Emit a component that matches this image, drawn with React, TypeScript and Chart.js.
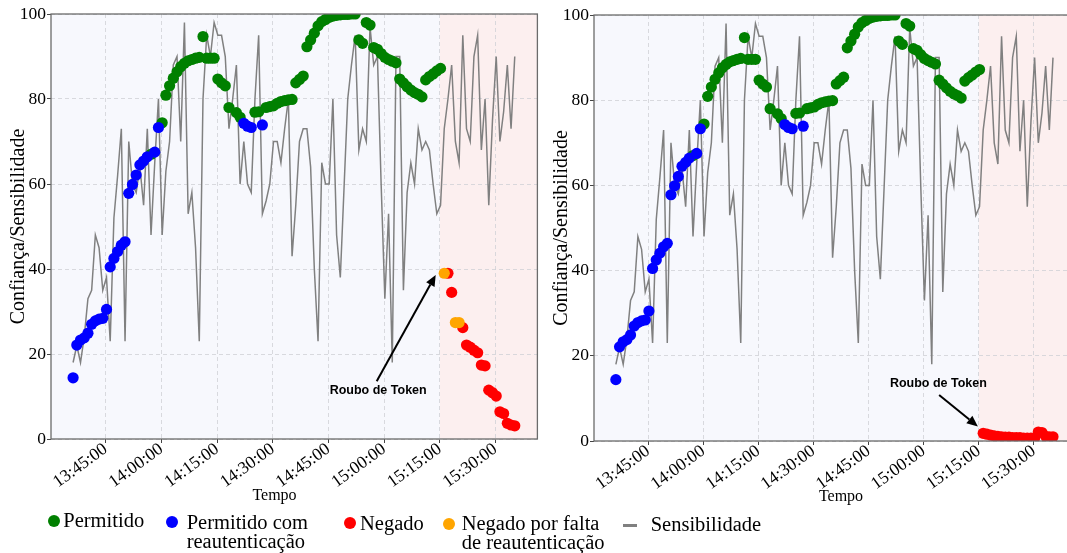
import React, { useEffect, useRef } from 'react';
import { Chart, registerables } from 'chart.js';

Chart.register(...registerables);

// ---------------- data ----------------
// one sample per minute, first sample at 13:36:12
const FIRST_SAMPLE = '13:36:12';
const SAMPLE_STEP_MIN = 1;

// Sensibilidade (grey line), 120 samples
const sensibilidade = [
  18, 22, 18, 24, 33, 35, 48, 45, 35, 38,
  23, 52, 62, 73, 23, 70, 60, 58, 64, 55,
  73, 48, 65, 80, 48, 63, 70, 88, 90, 70,
  98, 53, 58, 45, 23, 80, 95, 90, 98, 95,
  95, 90, 73, 80, 88, 60, 70, 60, 58, 80,
  95, 53, 56, 60, 70, 70, 65, 73, 80, 43,
  55, 70, 73, 73, 64, 40, 23, 65, 60, 60,
  80, 48, 38, 59, 80, 88, 95, 68, 73, 70,
  97, 88, 90, 60, 33, 53, 18, 90, 90, 35,
  58, 65, 60, 73, 68, 70, 68, 60, 53, 55,
  73, 80, 88, 70, 65, 95, 73, 70, 90, 95,
  68, 80, 55, 75, 90, 70, 77, 88, 73, 90,
];

// Confiança before the token theft (shared by both panels), samples 0..99
const confiancaAntes: (number | null)[] = [
  14.4, 22.1, 23.3, 23.8, 24.9, 27.0, 27.8, 28.2, 28.4, 30.5,
  40.5, 42.5, 44.1, 45.6, 46.4, 57.8, 59.9, 62.1, 64.5, 65.4,
  66.4, 67.0, 67.5, 73.3, 74.4, 80.9, 83.1, 84.9, 86.4, 87.6,
  88.4, 89.0, 89.3, 89.6, 89.8, 94.7, 89.6, 89.6, 89.6, 84.7,
  83.8, 83.1, 78.0, null, 76.8, 75.7, 74.3, 73.6, 73.3, 76.9,
  77.0, 73.9, 78.0, 78.2, 78.4, 79.0, 79.4, 79.6, 79.8, 79.9,
  83.8, 84.6, 85.4, 92.3, 93.9, 95.5, 97.2, 98.2, 98.7, 99.2,
  99.5, 99.7, 99.8, 99.9, 99.9, 100, 100, 93.9, 93.1, 98.0,
  97.4, 92.1, 91.7, 90.7, 89.8, 89.3, 88.9, 88.5, 84.7, 83.8,
  82.9, 82.1, 81.5, 81.1, 80.5, 84.5, 85.3, 85.9, 86.6, 87.2,
];
// decision per sample (run-length): P = Permitido, R = com reautenticação, - = none
const decisaoAntesRuns: [string, number][] = [
  ['R', 21], ['P', 1], ['R', 2], ['P', 19], ['-', 1], ['P', 2],
  ['R', 3], ['P', 2], ['R', 1], ['P', 48],
];

// after the theft (samples 100..119)
const confiancaAtaqueA = [
  39.0, 39.0, 34.5, 27.4, 27.4, 26.2, 22.1, 21.6, 20.9, 20.3,
  17.4, 17.2, 11.5, 10.9, 10.1, 6.4, 6.0, 3.7, 3.3, 3.1,
];
const decisaoAtaqueA = ['F', 'N', 'N', 'F', 'F', 'N', 'N', 'N', 'N', 'N',
  'N', 'N', 'N', 'N', 'N', 'N', 'N', 'N', 'N', 'N'];

const confiancaAtaqueB = [
  1.8, 1.6, 1.4, 1.2, 1.1, 1.0, 0.9, 0.9, 0.8, 0.8,
  0.8, 0.7, 0.7, 0.7, 0.7, 2.1, 2.0, 1.1, 1.0, 1.0,
];
const decisaoAtaqueB = ['N', 'N', 'N', 'N', 'N', 'N', 'N', 'N', 'N', 'N',
  'N', 'N', 'N', 'N', 'N', 'N', 'N', 'N', 'N', 'N'];

const xTickLabels = ['13:45:00', '14:00:00', '14:15:00', '14:30:00', '14:45:00', '15:00:00', '15:15:00', '15:30:00'];
const yTickValues = [0, 20, 40, 60, 80, 100];
const ATTACK_TIME = '15:15:00';
const X_RANGE = ['13:30:15', '15:41:18'];

const SERIES = [
  { code: 'P', label: 'Permitido', color: '#008000' },
  { code: 'R', label: 'Permitido com\nreautenticação', color: '#0000ff' },
  { code: 'N', label: 'Negado', color: '#ff0000' },
  { code: 'F', label: 'Negado por falta\nde reautenticação', color: '#ffa500' },
];
const LINE_SERIES = { label: 'Sensibilidade', color: '#808080' };

// ---------------- helpers ----------------
const toMin = (s: string) => {
  const [h, m, sec] = s.split(':').map(Number);
  return (h - 13) * 60 + m + sec / 60;
};
const fmtMin = (v: number) => {
  const total = Math.round(v * 60);
  const h = 13 + Math.floor(total / 3600);
  const m = Math.floor((total % 3600) / 60);
  const s = total % 60;
  return `${h}:${String(m).padStart(2, '0')}:${String(s).padStart(2, '0')}`;
};
const sampleTime = (i: number) => toMin(FIRST_SAMPLE) + i * SAMPLE_STEP_MIN;
const expandRuns = (runs: [string, number][]) => {
  const out: string[] = [];
  runs.forEach(([c, n]) => { for (let k = 0; k < n; k++) out.push(c); });
  return out;
};

const SERIF = '"Liberation Serif", "Times New Roman", serif';

function drawArrow(ctx: CanvasRenderingContext2D, x0: number, y0: number, x1: number, y1: number) {
  const ang = Math.atan2(y1 - y0, x1 - x0);
  const headLen = 11;
  const headW = 4.8;
  const bx = x1 - headLen * Math.cos(ang);
  const by = y1 - headLen * Math.sin(ang);
  ctx.strokeStyle = '#000';
  ctx.fillStyle = '#000';
  ctx.lineWidth = 2;
  ctx.beginPath();
  ctx.moveTo(x0, y0);
  ctx.lineTo(bx, by);
  ctx.stroke();
  ctx.beginPath();
  ctx.moveTo(x1, y1);
  ctx.lineTo(bx + headW * Math.sin(ang), by - headW * Math.cos(ang));
  ctx.lineTo(bx - headW * Math.sin(ang), by + headW * Math.cos(ang));
  ctx.closePath();
  ctx.fill();
}

const panelDeco = {
  id: 'panelDeco',
  beforeDraw(chart: any, _args: any, opts: any) {
    const { ctx, chartArea: a, scales } = chart;
    const xs = scales.x.getPixelForValue(toMin(ATTACK_TIME));
    ctx.save();
    ctx.fillStyle = '#f7f8fd';
    ctx.fillRect(a.left, a.top, xs - a.left, a.bottom - a.top);
    ctx.fillStyle = '#fcefef';
    ctx.fillRect(xs, a.top, a.right - xs, a.bottom - a.top);
    ctx.restore();
  },
  afterDatasetsDraw(chart: any, _args: any, opts: any) {
    const { ctx, chartArea: a, scales } = chart;
    ctx.save();
    // frame
    ctx.strokeStyle = '#6b6b6b';
    ctx.lineWidth = 1.3;
    ctx.setLineDash([]);
    ctx.strokeRect(a.left, a.top, a.right - a.left, a.bottom - a.top);
    // annotation
    const an = opts.annotation;
    const px = (t: number) => scales.x.getPixelForValue(t);
    const py = (v: number) => scales.y.getPixelForValue(v);
    ctx.font = 'bold 12.5px "Liberation Sans", Arial, sans-serif';
    ctx.fillStyle = '#000';
    ctx.textAlign = 'center';
    ctx.textBaseline = 'middle';
    ctx.fillText('Roubo de Token', px(an.textAt[0]), py(an.textAt[1]));
    drawArrow(ctx, px(an.from[0]), py(an.from[1]), px(an.to[0]), py(an.to[1]));
    // x title
    ctx.font = `16px ${SERIF}`;
    ctx.textBaseline = 'alphabetic';
    ctx.fillText('Tempo', opts.xTitle[0], opts.xTitle[1]);
    ctx.restore();
  },
};

type PanelProps = {
  conf: (number | null)[];
  dec: string[];
  left: number;
  width: number;
  height: number;
  plotTop: number;
  plotBottom: number;
  annotation: any;
  xTitle: [number, number];
};

function Panel({ conf, dec, left, width, height, plotTop, plotBottom, annotation, xTitle }: PanelProps) {
  const ref = useRef<HTMLCanvasElement | null>(null);
  useEffect(() => {
    if (!ref.current) return;
    const groups: Record<string, { x: number; y: number }[]> = { P: [], R: [], N: [], F: [] };
    conf.forEach((v, i) => {
      const d = dec[i];
      if (v !== null && groups[d]) groups[d].push({ x: sampleTime(i), y: v });
    });
    const linePts = sensibilidade.map((v, i) => ({ x: sampleTime(i), y: v }));
    const xTickVals = xTickLabels.map(toMin);

    const scatterSets = SERIES.map((s, k) => ({
      type: 'scatter' as const,
      label: s.label,
      data: groups[s.code],
      backgroundColor: s.color,
      borderWidth: 0,
      pointRadius: 5.6,
      pointHoverRadius: 5.6,
      order: 4 - k,
    }));

    const chart = new Chart(ref.current, {
      type: 'scatter',
      data: {
        datasets: [
          ...scatterSets,
          {
            type: 'line' as const,
            label: LINE_SERIES.label,
            data: linePts,
            borderColor: LINE_SERIES.color,
            borderWidth: 1.5,
            pointRadius: 0,
            fill: false,
            tension: 0,
            order: 10,
          },
        ] as any,
      },
      options: {
        responsive: false,
        animation: false,
        layout: { padding: { left: 0, top: plotTop, right: 4, bottom: 0 } },
        plugins: {
          legend: { display: false },
          tooltip: { enabled: false },
          panelDeco: { annotation, xTitle },
        } as any,
        scales: {
          x: {
            type: 'linear',
            min: toMin(X_RANGE[0]),
            max: toMin(X_RANGE[1]),
            afterBuildTicks: (s: any) => { s.ticks = xTickVals.map((v) => ({ value: v })); },
            afterFit: (s: any) => { s.height = height - plotBottom; },
            ticks: {
              autoSkip: false,
              minRotation: 36,
              maxRotation: 36,
              padding: -4,
              color: '#000',
              font: { family: SERIF, size: 17.5 },
              callback: (v: any) => fmtMin(Number(v)),
            },
            grid: {
              color: '#cfd0d6',
              lineWidth: 0.8,
              tickLength: 4,
              tickColor: '#444',
              tickWidth: 1,
              tickBorderDash: [],
            },
            border: { display: false, dash: [4, 3] },
            title: { display: false },
          },
          y: {
            type: 'linear',
            min: 0,
            max: 100,
            afterBuildTicks: (s: any) => { s.ticks = yTickValues.map((v) => ({ value: v })); },
            afterFit: (s: any) => { s.width = 51; },
            ticks: {
              padding: 1,
              color: '#000',
              font: { family: SERIF, size: 17.5 },
            },
            grid: {
              color: '#cfd0d6',
              lineWidth: 0.8,
              tickLength: 4,
              tickColor: '#444',
              tickWidth: 1,
              tickBorderDash: [],
            },
            border: { display: false, dash: [4, 3] },
            title: {
              display: true,
              text: 'Confiança/Sensibilidade',
              color: '#000',
              font: { family: SERIF, size: 20, lineHeight: 1.2 },
              padding: { top: 7, bottom: 0 },
            },
          },
        },
      } as any,
      plugins: [panelDeco as any],
    });
    return () => chart.destroy();
  }, []);
  return (
    <canvas
      ref={ref}
      width={width}
      height={height}
      style={{ position: 'absolute', left, top: 0, width, height }}
    />
  );
}

const LEGEND_LAYOUT = [
  { dot: [53.7, 520.7], text: [63.3, 527.3] },
  { dot: [171.7, 521.7], text: [186.7, 529] },
  { dot: [350, 523.3], text: [360, 530.5] },
  { dot: [449.3, 524], text: [461.7, 530.7] },
  { line: [622.7, 636.7, 525], text: [650.7, 531.7] },
];

function Legend() {
  const fontSize = 20.5;
  const lineH = 19;
  const baseOff = (lineH - fontSize * 1.107) / 2 + fontSize * 0.891;
  const items = [...SERIES.map((s) => ({ label: s.label, color: s.color, kind: 'dot' })),
    { label: LINE_SERIES.label, color: LINE_SERIES.color, kind: 'line' }];
  return (
    <>
      {items.map((it, k) => {
        const lay: any = LEGEND_LAYOUT[k];
        return (
          <React.Fragment key={k}>
            {it.kind === 'dot' ? (
              <div style={{
                position: 'absolute', left: lay.dot[0] - 6, top: lay.dot[1] - 6,
                width: 12, height: 12, borderRadius: '50%', background: it.color,
              }} />
            ) : (
              <div style={{
                position: 'absolute', left: lay.line[0], top: lay.line[2] - 1.5,
                width: lay.line[1] - lay.line[0], height: 3, background: it.color,
              }} />
            )}
            <div style={{
              position: 'absolute', left: lay.text[0], top: lay.text[1] - baseOff,
              font: `${fontSize}px ${SERIF}`, lineHeight: `${lineH}px`, color: '#000',
              whiteSpace: 'pre',
            }}>{it.label}</div>
          </React.Fragment>
        );
      })}
    </>
  );
}

export default function App() {
  const antes = expandRuns(decisaoAntesRuns);
  const confA = [...confiancaAntes, ...confiancaAtaqueA];
  const decA = [...antes, ...decisaoAtaqueA];
  const confB = [...confiancaAntes, ...confiancaAtaqueB];
  const decB = [...antes, ...decisaoAtaqueB];
  return (
    <div style={{ position: 'absolute', left: 0, top: 0, width: 1067, height: 553, overflow: 'hidden', background: '#fff' }}>
      <Panel
        conf={confA} dec={decA} left={0} width={543} height={510} plotTop={14} plotBottom={439}
        annotation={{ textAt: [118.4, 11.3], from: [118.0, 13.6], to: [133.9, 38.6] }}
        xTitle={[274.5, 500]}
      />
      <Panel
        conf={confB} dec={decB} left={543} width={538} height={510} plotTop={15} plotBottom={441}
        annotation={{ textAt: [124.0, 13.5], from: [124.2, 10.8], to: [134.75, 3.4] }}
        xTitle={[298, 500.7]}
      />
      <Legend />
    </div>
  );
}
